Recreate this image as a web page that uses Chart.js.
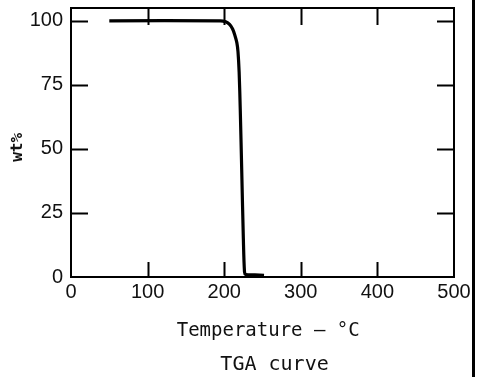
<!DOCTYPE html>
<html>
<head>
<meta charset="utf-8">
<script src="https://cdn.jsdelivr.net/npm/chart.js@4/dist/chart.umd.min.js"></script>
<style>
html,body{margin:0;padding:0;background:#fff;}
canvas{display:block;}
</style>
</head>
<body>
<canvas id="c" width="478" height="377"></canvas>
<script>
// Data
const temperature = [50, 195, 202, 207, 211, 214, 216.5, 218, 219.5, 221, 223, 225, 226.5, 228, 240, 252];
const weightPct   = [100, 100, 99.6, 98.6, 96.8, 94.3, 91.5, 88, 80, 65, 40, 15, 2, 1, 0.8, 0.6];
const xTickValues = [0, 100, 200, 300, 400, 500];
const yTickValues = [0, 25, 50, 75, 100];
const xInnerTicks = [100, 200, 300, 400];
const yInnerTicks = [25, 50, 75, 100];
const xTitle = ' Temperature \u2013 \u00B0C';
const yTitle = 'wt% ';
const chartCaption = '  TGA curve';

const points = temperature.map((t, i) => ({x: t, y: weightPct[i]}));

const frame = {
  id: 'frame',
  afterDatasetsDraw(chart) {
    const {ctx, chartArea: a, scales} = chart;
    ctx.save();
    ctx.strokeStyle = '#000';
    ctx.lineWidth = 2;
    ctx.strokeRect(a.left, a.top, a.right - a.left, a.bottom - a.top);
    ctx.beginPath();
    xInnerTicks.forEach(v => {
      const px = Math.round(scales.x.getPixelForValue(v)) + 0.5;
      ctx.moveTo(px, a.bottom); ctx.lineTo(px, a.bottom - 15);
      ctx.moveTo(px, a.top); ctx.lineTo(px, a.top + 17);
    });
    yInnerTicks.forEach(v => {
      const py = Math.round(scales.y.getPixelForValue(v)) + 0.5;
      ctx.moveTo(a.left, py); ctx.lineTo(a.left + 17, py);
      ctx.moveTo(a.right, py); ctx.lineTo(a.right - 17, py);
    });
    ctx.stroke();
    // page edge line on the right of the scan
    ctx.lineWidth = 3;
    ctx.beginPath();
    ctx.moveTo(chart.width - 4.5, 0);
    ctx.lineTo(chart.width - 4.5, chart.height);
    ctx.stroke();
    ctx.restore();
  }
};

new Chart(document.getElementById('c'), {
  type: 'line',
  data: {
    datasets: [{
      data: points,
      borderColor: '#000',
      borderWidth: 3.2,
      pointRadius: 0,
      tension: 0.3,
      fill: false
    }]
  },
  options: {
    responsive: false,
    animation: false,
    devicePixelRatio: 1,
    layout: {padding: {left: 8, right: 24, top: 8, bottom: 0}},
    plugins: {
      legend: {display: false},
      tooltip: {enabled: false},
      title: {
        display: true,
        fullSize: false,
        text: chartCaption,
        position: 'bottom',
        color: '#111',
        font: {family: 'DejaVu Sans Mono', size: 20, weight: 'normal'},
        padding: {top: 11, bottom: 0}
      }
    },
    scales: {
      x: {
        type: 'linear',
        min: 0, max: 500,
        afterBuildTicks: s => { s.ticks = xTickValues.map(v => ({value: v})); },
        afterFit: s => { s.height = 65; s.paddingLeft = 0; s.paddingRight = 0; },
        grid: {display: false, drawTicks: false},
        border: {display: false},
        ticks: {padding: 3, color: '#111', maxRotation: 0, autoSkip: false,
                font: {family: 'Liberation Sans', size: 20}},
        title: {display: true, text: xTitle, color: '#111', padding: {top: 0, bottom: 0},
                font: {family: 'DejaVu Sans Mono', size: 19}}
      },
      y: {
        type: 'linear',
        min: 0, max: 105,
        afterBuildTicks: s => { s.ticks = yTickValues.map(v => ({value: v})); },
        afterFit: s => { s.width = 63; s.paddingTop = 0; s.paddingBottom = 0; },
        grid: {display: false, drawTicks: false},
        border: {display: false},
        ticks: {padding: 8, color: '#111', autoSkip: false,
                font: {family: 'Liberation Sans', size: 20}},
        title: {display: true, text: yTitle, color: '#111', padding: {top: 0, bottom: 0},
                font: {family: 'DejaVu Sans Mono', size: 16, weight: 'bold'}}
      }
    }
  },
  plugins: [frame]
});
</script>
</body>
</html>
